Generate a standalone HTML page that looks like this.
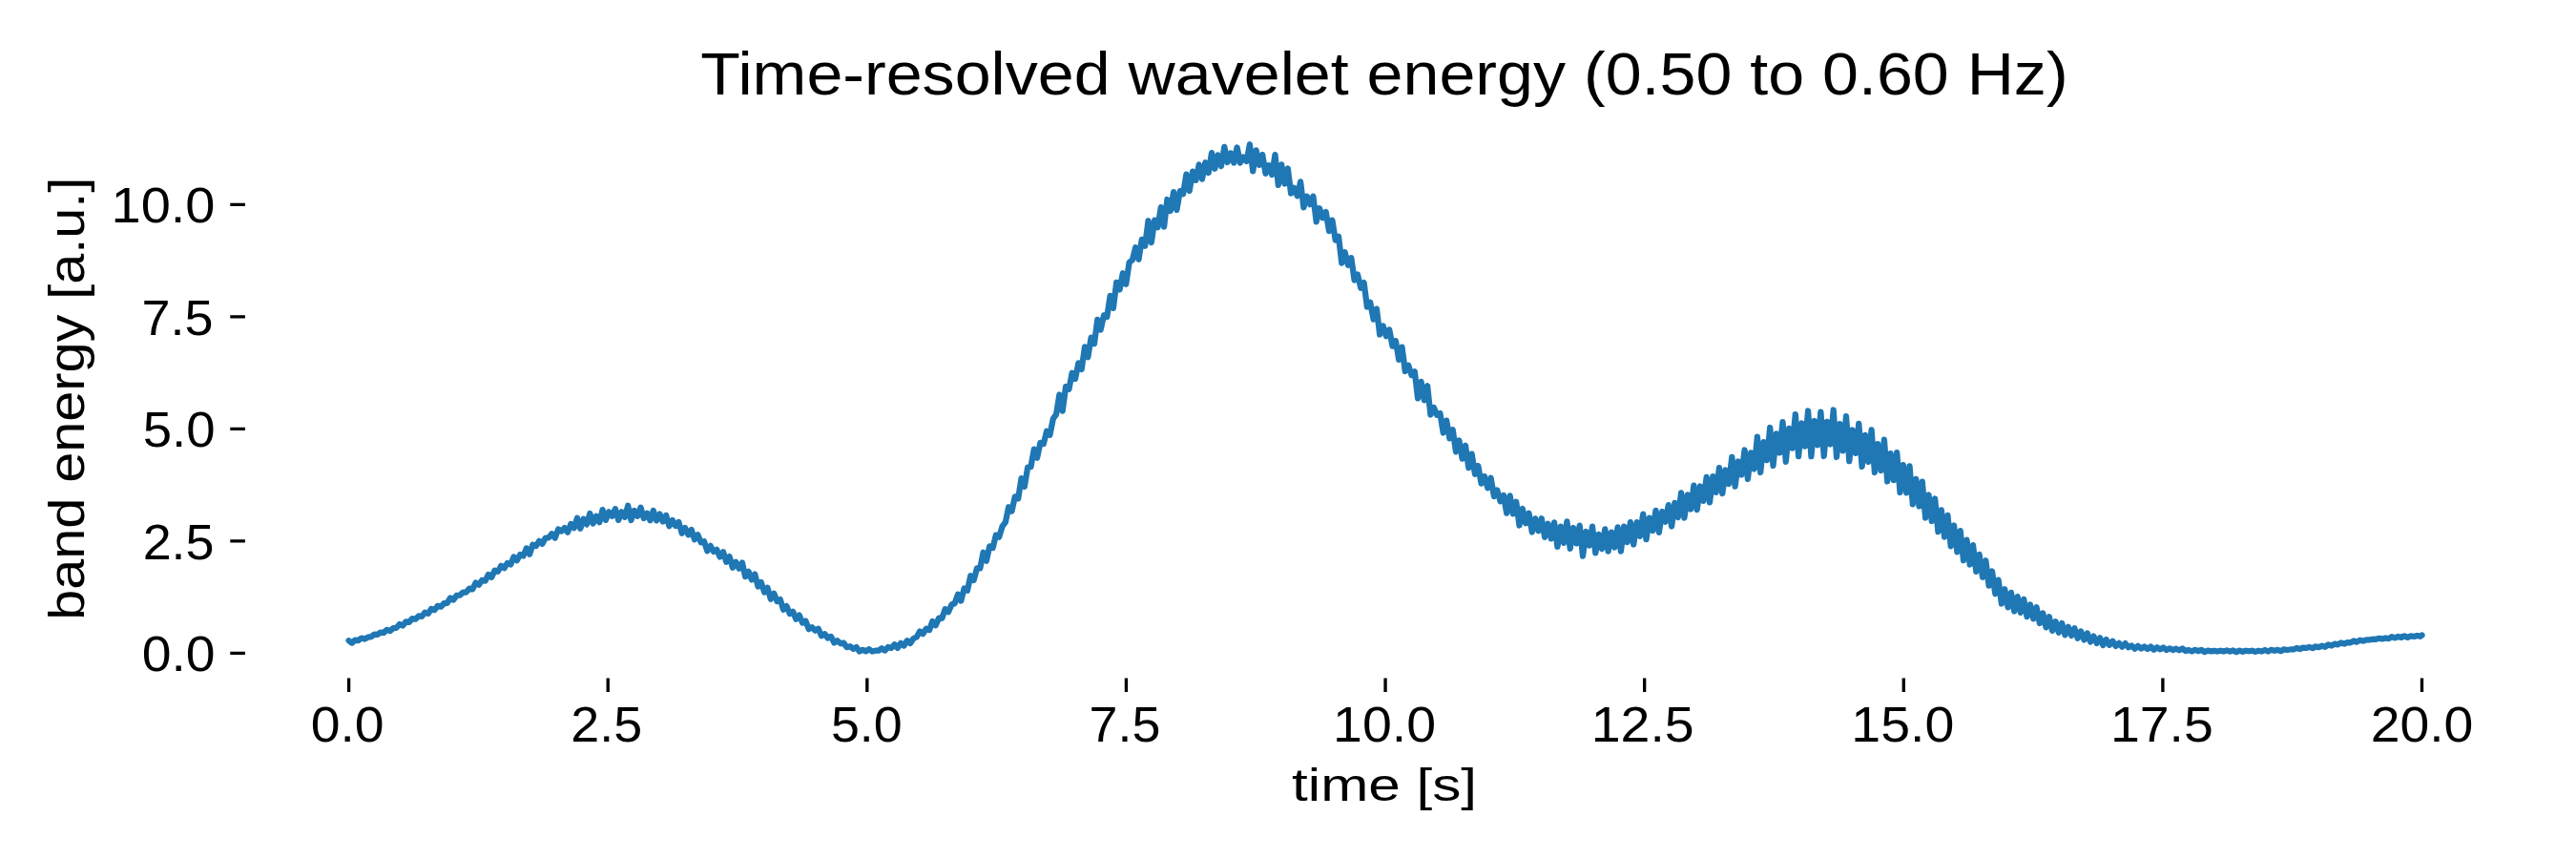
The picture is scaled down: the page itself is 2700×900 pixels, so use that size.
<!DOCTYPE html>
<html><head><meta charset="utf-8"><title>Time-resolved wavelet energy</title>
<style>
html,body{margin:0;padding:0;background:#fff;}
body{width:2700px;height:900px;overflow:hidden;position:relative;}
svg{position:absolute;left:0;top:0;display:block;}
text{font-family:"Liberation Sans",sans-serif;fill:#000;}
</style></head><body>
<svg width="2700" height="900" viewBox="0 0 2700 900">
<rect width="2700" height="900" fill="#fff"/>
<path d="M241.3 684.30H256.9 M241.3 566.80H256.9 M241.3 449.30H256.9 M241.3 331.80H256.9 M241.3 214.30H256.9 M365.60 710.5V725.1 M637.21 710.5V725.1 M908.83 710.5V725.1 M1180.44 710.5V725.1 M1452.05 710.5V725.1 M1723.66 710.5V725.1 M1995.28 710.5V725.1 M2266.89 710.5V725.1 M2538.50 710.5V725.1" stroke="#000" stroke-width="3.33" fill="none"/>
<path d="M365.6 671.2l3.3 2.4 3.3 -3 3.4 .5 3.3 -2.5 3.3 1 3.4 -1.9 3.3 -.5 3.3 -2.5 3.3 .1 3.3 -2.2 3.4 .3 3.3 -3.1 3.3 1.3 3.4 -3 3.3 -.3 3.3 -3.8 3.3 1.5 3.3 -4.1 3.4 .5 3.3 -3.8 3.3 .6 3.4 -3.3 3.3 .5 3.3 -4.2 3.3 1.2 3.3 -4.9 3.4 1.2 3.3 -4.4 3.3 .9 3.4 -3.5 3.3 -.3 3.3 -5.4 3.3 2 3.3 -4.6 3.4 -.2 3.3 -3.2 3.3 0 3.4 -3.9 3.3 .8 3.3 -6.8 3.3 2.1 3.3 -4.8 3.4 .8 3.3 -6.7 3.3 2.8 3.4 -7.2 3.3 1.1 3.3 -5.8 3.3 2.4 3.3 -5.3 3.4 1.5 3.3 -8 3.3 3.7 3.4 -6.2 3.3 1.5 3.3 -8.1 3.3 6.4 3.3 -10.2 3.4 1.5 3.3 -5.2 3.3 2.9 3.4 -6.3 3.3 -.1 3.3 -4.2 3.3 4.5 3.4 -9.2 3.3 2.1 3.3 -3.5 3.3 4.6 3.4 -8.7 3.3 4.3 3.3 -10.6 3.3 11.1 3.3 -10 3.4 5.7 3.3 -11.5 3.3 10.5 3.4 -7.7 3.3 6.4 3.3 -13.1 3.3 10.8 3.3 -8.6 3.4 4.5 3.3 -7.6 3.3 11.7 3.4 -8.6 3.3 5.5 3.3 -12 3.3 15.2 3.3 -10 3.4 5.8 3.3 -9.1 3.3 11.3 3.4 -5.3 3.3 7.5 3.3 -10.2 3.3 10.4 3.3 -6.8 3.4 7.9 3.3 -6.6 3.3 11.3 3.4 -6.2 3.3 6.1 3.3 -4.1 3.3 11.7 3.3 -5.7 3.4 7.3 3.3 -5.3 3.3 10.2 3.4 -4.8 3.3 7.9 3.3 -1 3.3 10 3.4 -5.4 3.3 6 3.3 -2 3.3 7.5 3.4 -5.2 3.3 10.5 3.3 -5.6 3.3 11.6 3.3 -5.9 3.4 6.9 3.3 -6.2 3.3 14.7 3.4 -5.3 3.3 8.5 3.3 -5.8 3.3 12.9 3.3 -4.4 3.4 10.4 3.3 -4.6 3.3 11.8 3.4 -6 3.3 8.3 3.3 -1.9 3.3 10.7 3.3 -3.8 3.4 8 3.3 -2.3 3.3 8 3.4 -4.1 3.3 8 3.3 -2 3.3 8.6 3.3 -2.1 3.4 3.6 3.3 -2 3.3 7.5 3.4 -2 3.3 4.3 3.3 -1.6 3.3 6.5 3.3 -2.2 3.4 3.1 3.3 -.7 3.3 4.6 3.4 -1 3.3 2.7 3.3 -1.8 3.3 4.4 3.4 -1.7 3.3 1.5 3.3 -2.1 3.3 2.3 3.4 -.8 3.3 -.1 3.3 -2.3 3.3 2.3 3.3 -3.6 3.4 1 3.3 -3.8 3.3 3.7 3.4 -5.1 3.3 2.7 3.3 -5.3 3.3 2.8 3.3 -5 3.4 -1.5 3.3 -6.1 3.3 2.7 3.4 -5.5 3.3 1.5 3.3 -9.2 3.3 4.4 3.3 -7.6 3.4 .1 3.3 -9.7 3.3 3.1 3.4 -7.7 3.3 -1.4 3.3 -9.3 3.3 6.7 3.3 -13 3.4 2.2 3.3 -15.5 3.3 4.8 3.4 -12.6 3.3 .1 3.3 -16.8 3.3 9 3.3 -15.4 3.4 1.7 3.3 -13.4 3.3 2 3.4 -11.2 3.3 -4.3 3.3 -15.9 3.3 4.4 3.3 -15.3 3.4 2.1 3.3 -21.2 3.3 8.7 3.4 -20.4 3.3 -.4 3.3 -18.5 3.3 9.1 3.3 -15.9 3.4 1.3 3.3 -13.4 3.3 4.1 3.4 -17 3.3 -4.7 3.3 -20.6 3.3 17.1 3.4 -25.5 3.3 2.7 3.3 -17.1 3.3 6.3 3.4 -16.7 3.3 6.6 3.3 -23.5 3.3 10.8 3.3 -20.5 3.4 6.5 3.3 -25.3 3.3 10.7 3.4 -15.2 3.3 1.6 3.3 -22.1 3.3 13 3.3 -27.1 3.4 7.6 3.3 -17.2 3.3 11.5 3.4 -22.7 3.3 -2.6 3.3 -13.2 3.3 12.6 3.3 -21 3.4 6.9 3.3 -26.4 3.3 22.8 3.4 -23.5 3.3 7.6 3.3 -21 3.3 20.5 3.3 -28.7 3.4 12.1 3.3 -19.9 3.3 18.8 3.4 -19.8 3.3 3 3.3 -20.5 3.3 17.3 3.4 -20.4 3.3 9.3 3.3 -16.4 3.3 15.2 3.4 -17.5 3.3 10.8 3.3 -20.8 3.3 16.6 3.3 -14.3 3.4 11.6 3.3 -20.2 3.3 16.1 3.4 -9.6 3.3 10.2 3.3 -16.1 3.3 16.1 3.3 -6 3.4 4.4 3.3 -17.8 3.3 28.2 3.4 -22.1 3.3 15.6 3.3 -10.8 3.3 19.7 3.3 -8.6 3.4 9.9 3.3 -21 3.3 31.8 3.4 -21.5 3.3 20.1 3.3 -16 3.3 26.1 3.3 -5.7 3.4 8.4 3.3 -15 3.3 27 3.4 -11.6 3.3 8.5 3.3 -8.5 3.3 26.7 3.3 -14.2 3.4 10 3.3 -6.2 3.3 20.1 3.4 -11.4 3.3 20.9 3.3 -3.9 3.3 28 3.3 -11.4 3.4 13.4 3.3 -7.5 3.3 23.4 3.3 -6 3.4 14.1 3.3 -5.6 3.3 25.4 3.3 -4.7 3.4 17.9 3.3 -11.1 3.3 26.9 3.4 -9.1 3.3 10.8 3.3 -6.8 3.3 17.3 3.4 -5.6 3.3 19.8 3.3 -13.3 3.3 25.4 3.4 -6.2 3.3 10.3 3.3 -3.7 3.3 28.1 3.4 -17.7 3.3 19.5 3.3 -15.1 3.3 30.3 3.4 -7.6 3.3 7.9 3.3 -1.8 3.3 20.5 3.4 -12.9 3.3 18.8 3.3 -9.1 3.3 23.1 3.4 -11.9 3.3 19.2 3.3 -13.8 3.3 23.2 3.3 -14.5 3.4 21.2 3.3 -8.7 3.3 18.5 3.4 -7.5 3.3 12.1 3.3 -10.5 3.3 19.4 3.3 -6.6 3.4 11.8 3.3 -6.4 3.3 18.8 3.4 -18.4 3.3 19.1 3.3 -12.6 3.3 24.7 3.3 -17.5 3.4 15.3 3.3 -10.6 3.3 19.8 3.4 -14.1 3.3 12.8 3.3 -12.9 3.3 19.5 3.4 -14 3.3 15.6 3.3 -17.1 3.3 25.6 3.4 -21.3 3.3 17.3 3.3 -22.6 3.3 28.5 3.3 -21.8 3.4 16.4 3.3 -18.8 3.3 32.1 3.4 -25.7 3.3 14.6 3.3 -20 3.3 27.8 3.3 -19.5 3.4 15.2 3.3 -20.8 3.3 23.4 3.4 -20.1 3.3 15.9 3.3 -21.2 3.3 25.3 3.3 -25.9 3.4 16.3 3.3 -20.9 3.3 23.4 3.4 -23.4 3.3 14.8 3.3 -23.2 3.3 26.5 3.3 -22.5 3.4 13.4 3.3 -21.3 3.3 23.1 3.4 -21.9 3.3 10.7 3.3 -17.6 3.3 22.4 3.3 -24.7 3.4 15.3 3.3 -25.7 3.3 26.2 3.4 -24.2 3.3 15.1 3.3 -24.9 3.3 25.6 3.3 -24.7 3.4 15.4 3.3 -25.1 3.3 26.6 3.4 -27.3 3.3 16.8 3.3 -25.7 3.3 27 3.3 -24.7 3.4 14.5 3.3 -28.2 3.3 30.8 3.4 -26.1 3.3 14 3.3 -26 3.3 30.5 3.3 -27.7 3.4 17.2 3.3 -33.9 3.3 37.4 3.4 -31.8 3.3 18.9 3.3 -34.1 3.3 39.9 3.4 -33.5 3.3 20.1 3.3 -32.4 3.3 41.7 3.4 -35 3.3 20.8 3.3 -35.5 3.3 44 3.4 -34.6 3.3 24.2 3.3 -37.2 3.3 47.7 3.4 -37.2 3.3 25.4 3.3 -34.8 3.3 46.4 3.3 -36.1 3.4 23.6 3.3 -36 3.3 49.5 3.4 -34.8 3.3 28.1 3.3 -36.2 3.3 47.1 3.3 -32.7 3.4 24.4 3.3 -31 3.3 45 3.4 -33 3.3 28.1 3.3 -33.6 3.3 44.6 3.3 -29.8 3.4 27.8 3.3 -32.3 3.3 43.7 3.4 -29.2 3.3 28 3.3 -29 3.3 41.8 3.3 -28.9 3.4 29.3 3.3 -28.1 3.3 40 3.4 -26.4 3.3 28.6 3.3 -25.9 3.3 37.9 3.4 -24 3.3 27.6 3.3 -23.6 3.3 34.6 3.4 -22.8 3.3 28.3 3.3 -22.7 3.3 32.4 3.3 -21.8 3.4 27.9 3.3 -22.3 3.3 31.1 3.4 -21.5 3.3 25.8 3.3 -20.4 3.3 27.8 3.3 -18 3.4 24 3.3 -17.7 3.3 26.5 3.4 -15.2 3.3 23.6 3.3 -14.5 3.3 24.9 3.3 -15.3 3.4 19.1 3.3 -15.5 3.3 19.7 3.4 -15.4 3.3 16.8 3.3 -14 3.3 18.3 3.4 -12.7 3.3 14.9 3.3 -12.2 3.3 16.8 3.4 -10.5 3.3 14.9 3.3 -11.1 3.3 14.6 3.4 -9.7 3.3 11.5 3.3 -9.8 3.3 12.4 3.4 -8.5 3.3 9.2 3.3 -7.8 3.3 10.5 3.3 -7.3 3.4 9 3.3 -7 3.3 9.1 3.4 -5.9 3.3 7.3 3.3 -5.7 3.3 7.8 3.3 -6 3.4 5.8 3.3 -4.1 3.3 5.2 3.4 -3.1 3.3 3.8 3.3 -3.5 3.3 4.2 3.3 -1.8 3.4 3.2 3.3 -2.9 3.3 2.7 3.4 -2 3.3 2.5 3.3 -2.5 3.3 3.3 3.4 -2.5 3.3 2.1 3.3 -1.9 3.3 2.5 3.4 -1.6 3.3 1.6 3.3 -1.3 3.3 1.6 3.4 -1.8 3.3 2.6 3.3 -1 3.3 1.3 3.4 -1.5 3.3 1.3 3.3 -1.3 3.3 2.1 3.3 -1.3 3.4 .6 3.3 -.5 3.3 .7 3.4 -.8 3.3 .8 3.3 -1.1 3.3 1.2 3.3 -1.1 3.4 1.6 3.3 -1.5 3.3 1.2 3.4 -1.1 3.3 .6 3.3 -.6 3.3 1.2 3.3 -1.1 3.4 .7 3.3 -1.5 3.3 1.5 3.4 -1.7 3.3 1.1 3.3 -1.1 3.3 1.3 3.4 -1.7 3.3 .6 3.3 -.5 3.3 0 3.4 -1.5 3.3 1 3.3 -1.4 3.3 .3 3.3 -1 3.4 1.2 3.3 -1.7 3.3 .8 3.4 -1.5 3.3 1.1 3.3 -2.4 3.3 1.1 3.3 -1.8 3.4 .6 3.3 -1.8 3.3 1 3.4 -1.4 3.3 .2 3.3 -1.8 3.3 1.2 3.3 -2 3.4 .9 3.3 -1.3 3.3 .1 3.4 -.7 3.3 .1 3.3 -1 3.3 .6 3.3 -.9 3.4 .6 3.3 -1.9 3.3 1.1 3.4 -1.3 3.3 .9 3.3 -1.6 3.3 1.5 3.3 -1.4 3.4 .5 3.3 -1 3.3 .9 1.7 -1.3" fill="none" stroke="#1f77b4" stroke-width="6.25" stroke-linejoin="round" stroke-linecap="round"/>
<text transform="translate(364.10 776.50) scale(1.0770 1)" font-size="51.42" text-anchor="middle">0.0</text>
<text transform="translate(635.71 776.50) scale(1.0471 1)" font-size="51.42" text-anchor="middle">2.5</text>
<text transform="translate(908.33 776.50) scale(1.0459 1)" font-size="51.42" text-anchor="middle">5.0</text>
<text transform="translate(1178.94 776.50) scale(1.0471 1)" font-size="51.42" text-anchor="middle">7.5</text>
<text transform="translate(1451.05 776.50) scale(1.0780 1)" font-size="51.42" text-anchor="middle">10.0</text>
<text transform="translate(1721.66 776.50) scale(1.0791 1)" font-size="51.42" text-anchor="middle">12.5</text>
<text transform="translate(1994.28 776.50) scale(1.0780 1)" font-size="51.42" text-anchor="middle">15.0</text>
<text transform="translate(2265.89 776.50) scale(1.0793 1)" font-size="51.42" text-anchor="middle">17.5</text>
<text transform="translate(2538.50 776.50) scale(1.0768 1)" font-size="51.42" text-anchor="middle">20.0</text>
<text transform="translate(225.50 703.00) scale(1.0756 1)" font-size="51.42" text-anchor="end">0.0</text>
<text transform="translate(224.50 585.50) scale(1.0471 1)" font-size="51.42" text-anchor="end">2.5</text>
<text transform="translate(225.50 468.00) scale(1.0609 1)" font-size="51.42" text-anchor="end">5.0</text>
<text transform="translate(223.50 350.50) scale(1.0485 1)" font-size="51.42" text-anchor="end">7.5</text>
<text transform="translate(225.50 233.00) scale(1.0886 1)" font-size="51.42" text-anchor="end">10.0</text>
<text transform="translate(1451.00 99.00) scale(1.0771 1)" font-size="63.29" text-anchor="middle">Time-resolved wavelet energy (0.50 to 0.60 Hz)</text>
<text transform="translate(1451.00 839.30) scale(1.2306 1)" font-size="48.91" text-anchor="middle">time [s]</text>
<text transform="translate(87.50 417.75) rotate(-90) scale(1.1236 1)" font-size="51.24" text-anchor="middle">band energy [a.u.]</text>
</svg>
</body></html>
